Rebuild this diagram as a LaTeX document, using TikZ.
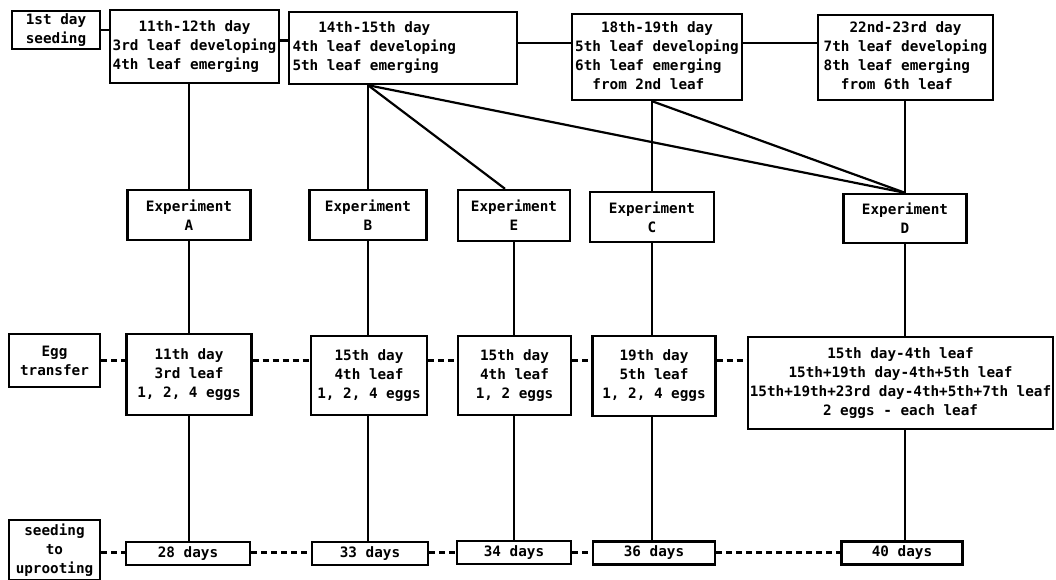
\documentclass[tikz,border=0pt]{standalone}
\usepackage{fontspec}
\setmonofont{DejaVu Sans Mono}
\begin{document}
\begin{tikzpicture}[x=1pt,y=-1pt,
  box/.style={draw, line width=2.4pt, inner sep=0pt, font=\fontsize{14.3}{19}\selectfont\ttfamily\bfseries, align=center},
  link/.style={line width=2.2pt},
  dlink/.style={line width=2.4pt, dash pattern=on 6pt off 4pt},
]
\useasboundingbox (0,0) rectangle (1056,580);
% top row
\node[box, minimum width=88, minimum height=38] (seed1) at (56,30) {1st day\\seeding};
\node[box, minimum width=169, minimum height=73] (d11) at (194.5,46.5)
  {\begin{tabular}{@{}l@{}}\multicolumn{1}{@{}c@{}}{11th-12th day}\\3rd leaf developing\\4th leaf emerging\end{tabular}};
\node[box, minimum width=228, minimum height=72] (d14) at (403,48)
  {\makebox[221pt][l]{\begin{tabular}{@{}l@{}}\multicolumn{1}{@{}c@{}}{14th-15th day}\\4th leaf developing\\5th leaf emerging\end{tabular}}};
\node[box, minimum width=170, minimum height=86] (d18) at (657,57)
  {\begin{tabular}{@{}l@{}}\multicolumn{1}{@{}c@{}}{18th-19th day}\\5th leaf developing\\6th leaf emerging\\\phantom{xx}from 2nd leaf\end{tabular}};
\node[box, minimum width=175, minimum height=85] (d22) at (905.5,57.5)
  {\begin{tabular}{@{}l@{}}\multicolumn{1}{@{}c@{}}{22nd-23rd day}\\7th leaf developing\\8th leaf emerging\\\phantom{xx}from 6th leaf\end{tabular}};
% experiments
\node[box, minimum width=123, minimum height=50] (expA) at (189,215) {Experiment\\A};
\node[box, minimum width=117, minimum height=50] (expB) at (368,215) {Experiment\\B};
\node[box, minimum width=112, minimum height=51] (expE) at (514,215.5) {Experiment\\E};
\node[box, minimum width=124, minimum height=50] (expC) at (652,217) {Experiment\\C};
\node[box, minimum width=123, minimum height=49] (expD) at (905,218.5) {Experiment\\D};
% egg transfer
\node[box, minimum width=91, minimum height=53] (eggL) at (54.5,360.5) {Egg\\transfer};
\node[box, minimum width=125, minimum height=81] (eggA) at (189,374.5) {11th day\\3rd leaf\\1, 2, 4 eggs};
\node[box, minimum width=116, minimum height=79] (eggB) at (369,375.5) {15th day\\4th leaf\\1, 2, 4 eggs};
\node[box, minimum width=113, minimum height=79] (eggE) at (514.5,375.5) {15th day\\4th leaf\\1, 2 eggs};
\node[box, minimum width=123, minimum height=80] (eggC) at (654,376) {19th day\\5th leaf\\1, 2, 4 eggs};
\node[box, minimum width=305, minimum height=92] (eggD) at (900.5,383) {15th day-4th leaf\\15th+19th day-4th+5th leaf\\15th+19th+23rd day-4th+5th+7th leaf\\2 eggs - each leaf};
% seeding to uprooting
\node[box, minimum width=91, minimum height=60] (seedL) at (54.5,550) {seeding\\to\\uprooting};
\node[box, minimum width=124, minimum height=23] (dA) at (188,553.5) {28 days};
\node[box, minimum width=116, minimum height=23] (dB) at (370,553.5) {33 days};
\node[box, minimum width=114, minimum height=23] (dE) at (514,552.5) {34 days};
\node[box, minimum width=122, minimum height=23] (dC) at (654,553) {36 days};
\node[box, minimum width=121, minimum height=23] (dD) at (902,553) {40 days};
% top connections
\draw[link] (seed1.east) -- (seed1.east -| d11.west);
\draw[link] ([yshift=6pt]d11.east) -- ([yshift=6pt]d11.east -| d14.west);
\draw[link] ([yshift=5pt]d14.east) -- ([yshift=5pt]d14.east -| d18.west);
\draw[link] ([yshift=14pt]d18.east) -- ([yshift=14pt]d18.east -| d22.west);
\coordinate (p14) at (expB.north |- d14.south);
\coordinate (p18) at (expC.north |- d18.south);
\draw[link] (expA.north |- d11.south) -- (expA.north);
\draw[link] (p14) -- (expB.north);
\draw[link] (p14) -- ([xshift=-9pt]expE.north);
\draw[link] (p14) -- (expD.north);
\draw[link] (p18) -- (expC.north);
\draw[link] (p18) -- (expD.north);
\draw[link] (expD.north |- d22.south) -- (expD.north);
% verticals
\foreach \c in {A,B,E,C,D}{
  \draw[link] (exp\c.south) -- (exp\c.south |- egg\c.north);
  \draw[link] (exp\c.south |- egg\c.south) -- (exp\c.south |- d\c.north);
}
% dashed rows
\draw[dlink] (eggL.east) -- (eggL.east -| eggA.west);
\draw[dlink] (eggA.east |- eggL.east) -- (eggB.west |- eggL.east);
\draw[dlink] (eggB.east |- eggL.east) -- (eggE.west |- eggL.east);
\draw[dlink] (eggE.east |- eggL.east) -- (eggC.west |- eggL.east);
\draw[dlink] (eggC.east |- eggL.east) -- (eggD.west |- eggL.east);
\draw[dlink] (seedL.east |- dE.west) -- (dA.west |- dE.west);
\draw[dlink] (dA.east |- dE.west) -- (dB.west |- dE.west);
\draw[dlink] (dB.east |- dE.west) -- (dE.west);
\draw[dlink] (dE.east) -- (dC.west |- dE.east);
\draw[dlink] (dC.east |- dE.east) -- (dD.west |- dE.east);
\end{tikzpicture}
\end{document}
